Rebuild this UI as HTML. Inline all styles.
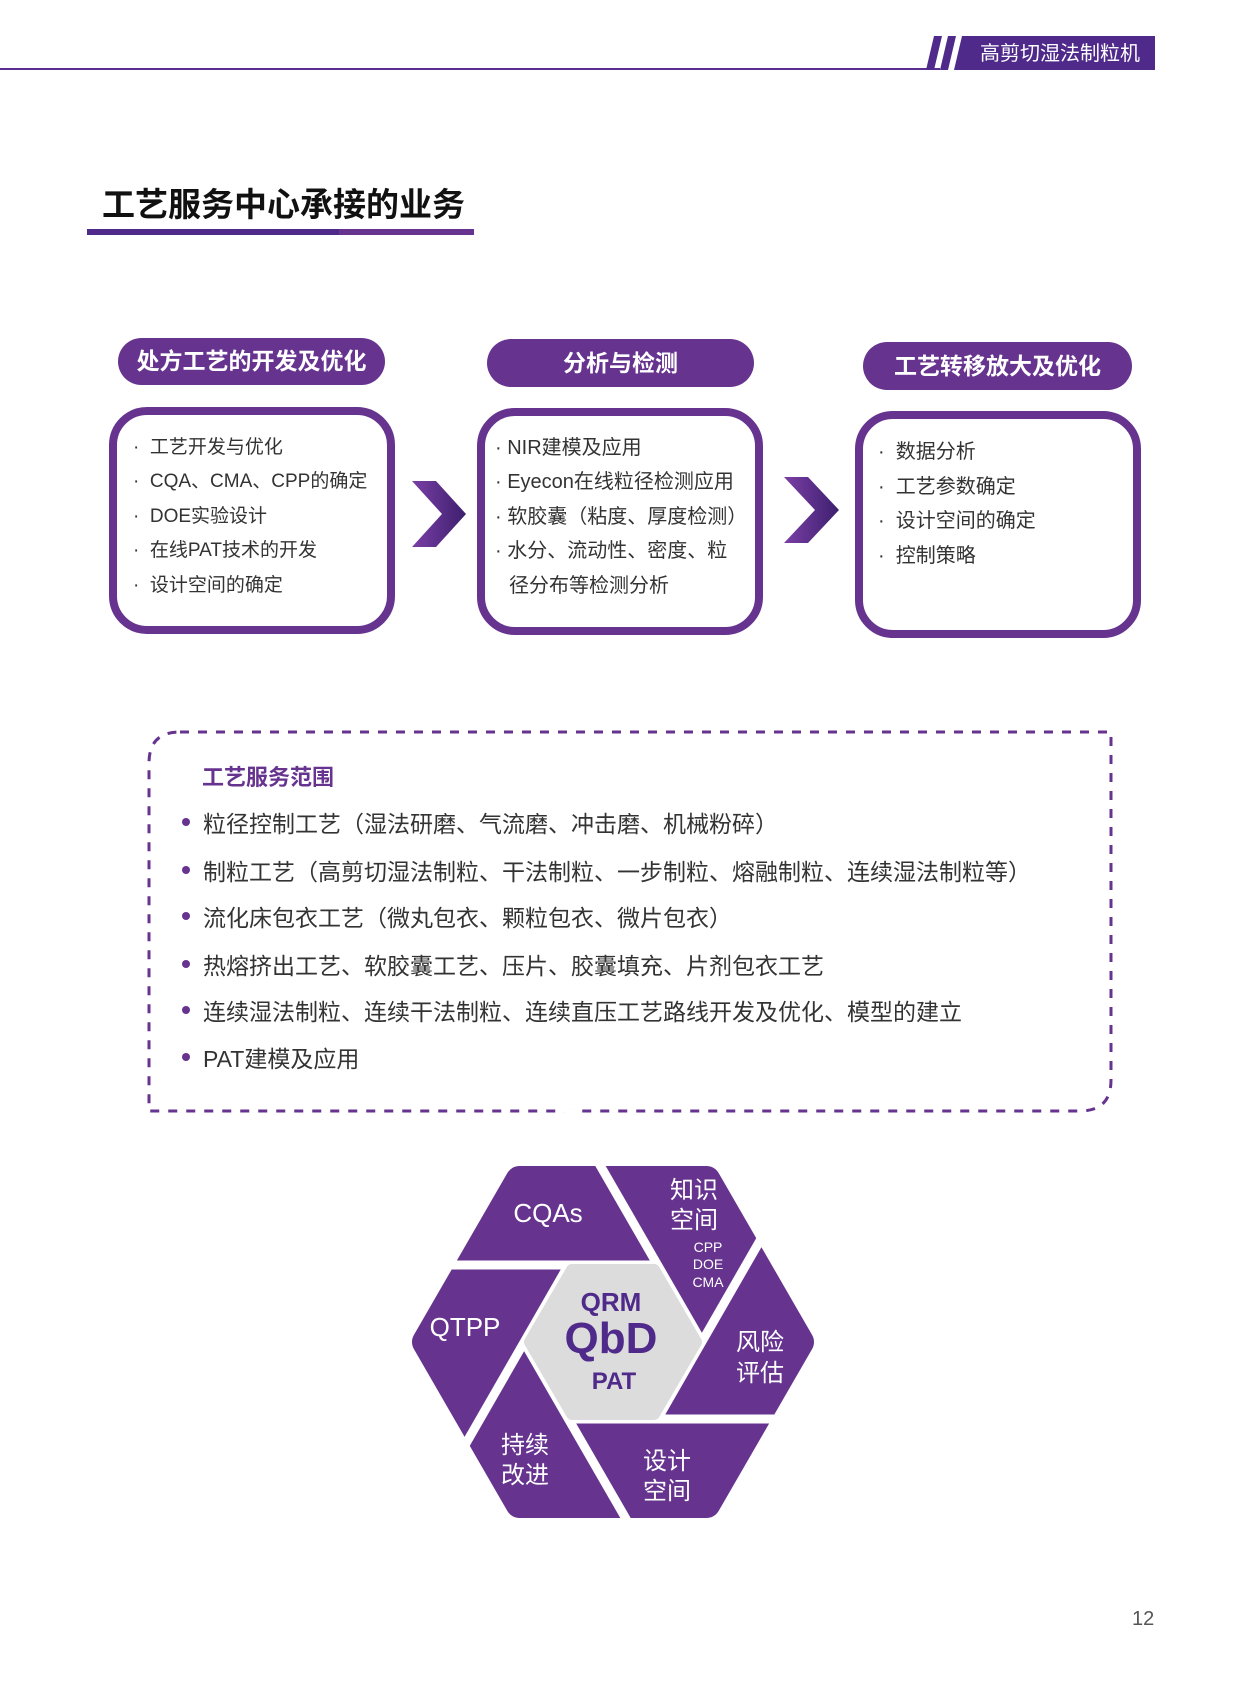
<!DOCTYPE html>
<html><head><meta charset="utf-8"><style>
*{margin:0;padding:0;box-sizing:border-box}
body{width:1240px;height:1683px;background:#fff;position:relative;overflow:hidden;font-family:"Liberation Sans","Noto Sans CJK SC",sans-serif;color:#333}
.a{position:absolute;white-space:nowrap}
.pill{position:absolute;background:#66338f;border-radius:24px;color:#fff;font-size:23px;font-weight:bold;text-align:center}
.box{position:absolute;border:8px solid #66338f;border-radius:38px;background:#fff}
.li{position:absolute;font-size:19px;line-height:24px;white-space:nowrap;color:#333}
.l2{font-size:20px}
.sc{position:absolute;font-size:23px;white-space:nowrap;color:#333}
.dot{position:absolute;width:8px;height:8px;border-radius:4px;background:#66338f}
</style></head><body>
<div class="a" style="left:0;top:68px;width:940px;height:2px;background:#5a2e90"></div>
<svg class="a" style="left:920px;top:36px" width="240" height="36">
<polygon points="14,0 22,0 14,34 6,34" fill="#4f2a8a"/>
<polygon points="28,0 36,0 28,34 20,34" fill="#4f2a8a"/>
<polygon points="42,0 235,0 235,34 34,34" fill="#4f2a8a"/>
</svg>
<div class="a" style="left:980px;top:40px;font-size:20px;color:#fff;line-height:28px">高剪切湿法制粒机</div>

<div class="a" style="left:102px;top:183px;font-size:33px;font-weight:bold;color:#111;line-height:44px">工艺服务中心承接的业务</div>
<div class="a" style="left:87px;top:229px;width:252px;height:6px;background:#4f2a8a"></div>
<div class="a" style="left:339px;top:229px;width:135px;height:6px;background:#66338f"></div>

<div class="pill" style="left:118px;top:338px;width:267px;height:47px;line-height:47px">处方工艺的开发及优化</div>
<div class="pill" style="left:487px;top:339px;width:267px;height:48px;line-height:48px">分析与检测</div>
<div class="pill" style="left:863px;top:342px;width:269px;height:48px;line-height:48px">工艺转移放大及优化</div>

<div class="box" style="left:109px;top:407px;width:286px;height:227px"></div>
<div class="box" style="left:477px;top:408px;width:286px;height:227px"></div>
<div class="box" style="left:855px;top:411px;width:286px;height:227px"></div>

<div class="li" style="left:133px;top:436px">·&nbsp; 工艺开发与优化</div>
<div class="li" style="left:133px;top:470px">·&nbsp; CQA、CMA、CPP的确定</div>
<div class="li" style="left:133px;top:505px">·&nbsp; DOE实验设计</div>
<div class="li" style="left:133px;top:539px">·&nbsp; 在线PAT技术的开发</div>
<div class="li" style="left:133px;top:574px">·&nbsp; 设计空间的确定</div>

<div class="li l2" style="left:495px;top:436px">· NIR建模及应用</div>
<div class="li l2" style="left:495px;top:470px">· Eyecon在线粒径检测应用</div>
<div class="li l2" style="left:495px;top:505px">· 软胶囊（粘度、厚度检测）</div>
<div class="li l2" style="left:495px;top:539px">· 水分、流动性、密度、粒</div>
<div class="li l2" style="left:509px;top:574px">径分布等检测分析</div>

<div class="li l2" style="left:878px;top:440px">·&nbsp; 数据分析</div>
<div class="li l2" style="left:878px;top:475px">·&nbsp; 工艺参数确定</div>
<div class="li l2" style="left:878px;top:509px">·&nbsp; 设计空间的确定</div>
<div class="li l2" style="left:878px;top:544px">·&nbsp; 控制策略</div>

<svg class="a" style="left:0;top:0" width="1240" height="1683">
<defs><linearGradient id="g" x1="0" x2="1"><stop offset="0" stop-color="#7a3fa6"/><stop offset="1" stop-color="#3d1f6e"/></linearGradient></defs>
<polygon points="412,481 436,481 466,514 436,547 412,547 442,514" fill="url(#g)"/>
<polygon points="784,477 808,477 839,510 808,543 784,543 815,510" fill="url(#g)"/>
<path d="M180,732 H1111 V1080 Q1111,1111 1080,1111 H149 V763 Q149,732 180,732 Z" fill="none" stroke="#66338f" stroke-width="3" stroke-dasharray="9 9"/>

<polygon points="800,1342 706.5,1504 519.5,1504 426,1342 519.5,1180 706.5,1180" fill="#66338f" stroke="#66338f" stroke-width="28" stroke-linejoin="round"/>
<g stroke="#fff" stroke-width="9">
<line x1="657.5" y1="1265" x2="380" y2="1265"/>
<line x1="702" y1="1342" x2="563" y2="1101"/>
<line x1="657.5" y1="1419" x2="796" y2="1178"/>
<line x1="568.5" y1="1419" x2="846" y2="1419"/>
<line x1="524" y1="1342" x2="663" y2="1583"/>
<line x1="568.5" y1="1265" x2="430" y2="1506"/>
</g>
<polygon points="696,1342 654,1414 572,1414 530,1342 572,1270 654,1270" fill="#dcdcdc" stroke="#dcdcdc" stroke-width="12" stroke-linejoin="round"/>
<g fill="#fff" font-family="Liberation Sans,Noto Sans CJK SC,sans-serif" text-anchor="middle">
<text x="548" y="1222" font-size="26">CQAs</text>
<text x="694" y="1198" font-size="24">知识</text>
<text x="694" y="1228" font-size="24">空间</text>
<text x="708" y="1252" font-size="14">CPP</text>
<text x="708" y="1269" font-size="14">DOE</text>
<text x="708" y="1287" font-size="14">CMA</text>
<text x="465" y="1336" font-size="26">QTPP</text>
<text x="760" y="1350" font-size="24">风险</text>
<text x="760" y="1381" font-size="24">评估</text>
<text x="525" y="1453" font-size="24">持续</text>
<text x="525" y="1483" font-size="24">改进</text>
<text x="667" y="1469" font-size="24">设计</text>
<text x="667" y="1499" font-size="24">空间</text>
</g>
<g fill="#4f2a8a" font-weight="bold" font-family="Liberation Sans,Noto Sans CJK SC,sans-serif" text-anchor="middle">
<text x="611" y="1311" font-size="26">QRM</text>
<text x="611" y="1353" font-size="44">QbD</text>
<text x="614" y="1389" font-size="24">PAT</text>
</g>
</svg>

<div class="a" style="left:202px;top:760px;font-size:22px;font-weight:bold;color:#66338f">工艺服务范围</div>
<div class="dot" style="left:182px;top:818px"></div><div class="sc" style="left:203px;top:805px">粒径控制工艺（湿法研磨、气流磨、冲击磨、机械粉碎）</div>
<div class="dot" style="left:182px;top:866px"></div><div class="sc" style="left:203px;top:853px">制粒工艺（高剪切湿法制粒、干法制粒、一步制粒、熔融制粒、连续湿法制粒等）</div>
<div class="dot" style="left:182px;top:912px"></div><div class="sc" style="left:203px;top:899px">流化床包衣工艺（微丸包衣、颗粒包衣、微片包衣）</div>
<div class="dot" style="left:182px;top:960px"></div><div class="sc" style="left:203px;top:947px">热熔挤出工艺、软胶囊工艺、压片、胶囊填充、片剂包衣工艺</div>
<div class="dot" style="left:182px;top:1006px"></div><div class="sc" style="left:203px;top:993px">连续湿法制粒、连续干法制粒、连续直压工艺路线开发及优化、模型的建立</div>
<div class="dot" style="left:182px;top:1053px"></div><div class="sc" style="left:203px;top:1040px">PAT建模及应用</div>

<div class="a" style="left:1132px;top:1608px;font-size:20px;color:#555">12</div>
</body></html>
